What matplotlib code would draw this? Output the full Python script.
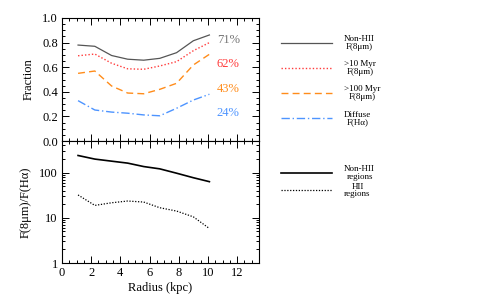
import matplotlib
matplotlib.use("Agg")
import matplotlib.pyplot as plt
from matplotlib.ticker import MultipleLocator, LogLocator, NullFormatter, FixedLocator

plt.rcParams['font.family'] = ['Liberation Serif', 'DejaVu Serif']
plt.rcParams['mathtext.fontset'] = 'stix'

radius = [1.1, 2.25, 3.4, 4.5, 5.6, 6.7, 7.85, 9.0, 10.1]

# fraction of emission (upper panel)
frac_nonhii = [0.78, 0.77, 0.695, 0.665, 0.657, 0.672, 0.718, 0.815, 0.862]
frac_10myr = [0.693, 0.707, 0.632, 0.587, 0.583, 0.61, 0.645, 0.734, 0.80]
frac_100myr = [0.55, 0.569, 0.447, 0.39, 0.384, 0.42, 0.469, 0.618, 0.705]
frac_diffuse = [0.328, 0.252, 0.235, 0.226, 0.212, 0.205, 0.266, 0.333, 0.38]
pct_labels = ["71%", "62%", "43%", "24%"]
pct_y = [0.82, 0.63, 0.42, 0.225]

# 8um / Halpha ratio (lower panel)
ratio_nonhii = [239, 199, 179, 162, 136, 121, 97, 77, 63]
ratio_hii = [32, 18.8, 21.5, 23.5, 22.3, 16.7, 14.1, 10.5, 5.8]

col_gray = '#555555'
col_red = '#ff3b3b'
col_orange = '#ff8c1a'
col_blue = '#4d94ff'

fig = plt.figure(figsize=(4.91, 3.03), dpi=100)
ax1 = fig.add_axes([62/491, 1-141/303, 197/491, 123/303])
ax2 = fig.add_axes([62/491, 1-263/303, 197/491, 122/303])

l1, = ax1.plot(radius, frac_nonhii, color=col_gray, lw=0.9, ls='-')
l2, = ax1.plot(radius, frac_10myr, color=col_red, lw=1.0, ls=(0, (1, 1.5)))
l3, = ax1.plot(radius, frac_100myr, color=col_orange, lw=1.0, ls=(0, (5, 3)))
l4, = ax1.plot(radius, frac_diffuse, color=col_blue, lw=1.0, ls=(0, (6, 2, 1, 2)))

for lab, yy, c in zip(pct_labels, pct_y, ['#777777', col_red, col_orange, col_blue]):
    ax1.text(10.6, yy, lab, color=c, fontsize=9, va='center', ha='left')

m1, = ax2.plot(radius, ratio_nonhii, color='black', lw=1.2, ls='-')
m2, = ax2.plot(radius, ratio_hii, color='black', lw=0.9, ls=(0, (1, 1.3)))
ax2.set_yscale('log')

for ax in (ax1, ax2):
    ax.set_xlim(0, 13.5)
    ax.xaxis.set_major_locator(MultipleLocator(2))
    ax.xaxis.set_minor_locator(MultipleLocator(0.5))
    ax.tick_params(which='both', direction='in', top=True, right=True,
                   labelsize=9, width=0.7, pad=3)
    ax.tick_params(which='major', length=5)
    ax.tick_params(which='minor', length=2.5)
    for s in ax.spines.values():
        s.set_linewidth(0.8)

ax1.set_ylim(0, 1.0)
ax1.yaxis.set_major_locator(MultipleLocator(0.2))
ax1.yaxis.set_minor_locator(MultipleLocator(0.05))
ax1.yaxis.set_major_formatter(matplotlib.ticker.FormatStrFormatter('%.1f'))
ax1.tick_params(labelbottom=False)
ax1.set_ylabel('Fraction', fontsize=9, labelpad=5)

ax2.set_ylim(1, 500)
ax2.yaxis.set_major_locator(FixedLocator([1, 10, 100]))
ax2.yaxis.set_major_formatter(matplotlib.ticker.FixedFormatter(['1', '10', '100']))
ax2.yaxis.set_minor_locator(LogLocator(base=10, subs=range(2, 10)))
ax2.yaxis.set_minor_formatter(NullFormatter())
ax2.set_ylabel('F(8μm)/F(Hα)', fontsize=9, labelpad=5)
ax2.set_xlabel('Radius (kpc)', fontsize=9, labelpad=2)

leg1 = ax1.legend([l1, l2, l3, l4],
                  ['Non-HII\nF(8μm)', '>10 Myr\nF(8μm)', '>100 Myr\nF(8μm)', 'Diffuse\nF(Hα)'],
                  loc='upper left', bbox_to_anchor=(281/491, 1-35/303),
                  bbox_transform=fig.transFigure, frameon=False, fontsize=6.5,
                  handlelength=5.6, handletextpad=1.4, labelspacing=1.05,
                  borderpad=0, borderaxespad=0)
leg2 = ax2.legend([m1, m2], ['Non-HII\nregions', 'HII\nregions'],
                  loc='upper left', bbox_to_anchor=(281/491, 1-165/303),
                  bbox_transform=fig.transFigure, frameon=False, fontsize=6.5,
                  handlelength=5.6, handletextpad=1.4, labelspacing=0.2,
                  borderpad=0, borderaxespad=0)
for leg in (leg1, leg2):
    for t in leg.get_texts():
        t.set_multialignment('center')
        t.set_linespacing(0.95)

fig.savefig('out.png', dpi=100)
